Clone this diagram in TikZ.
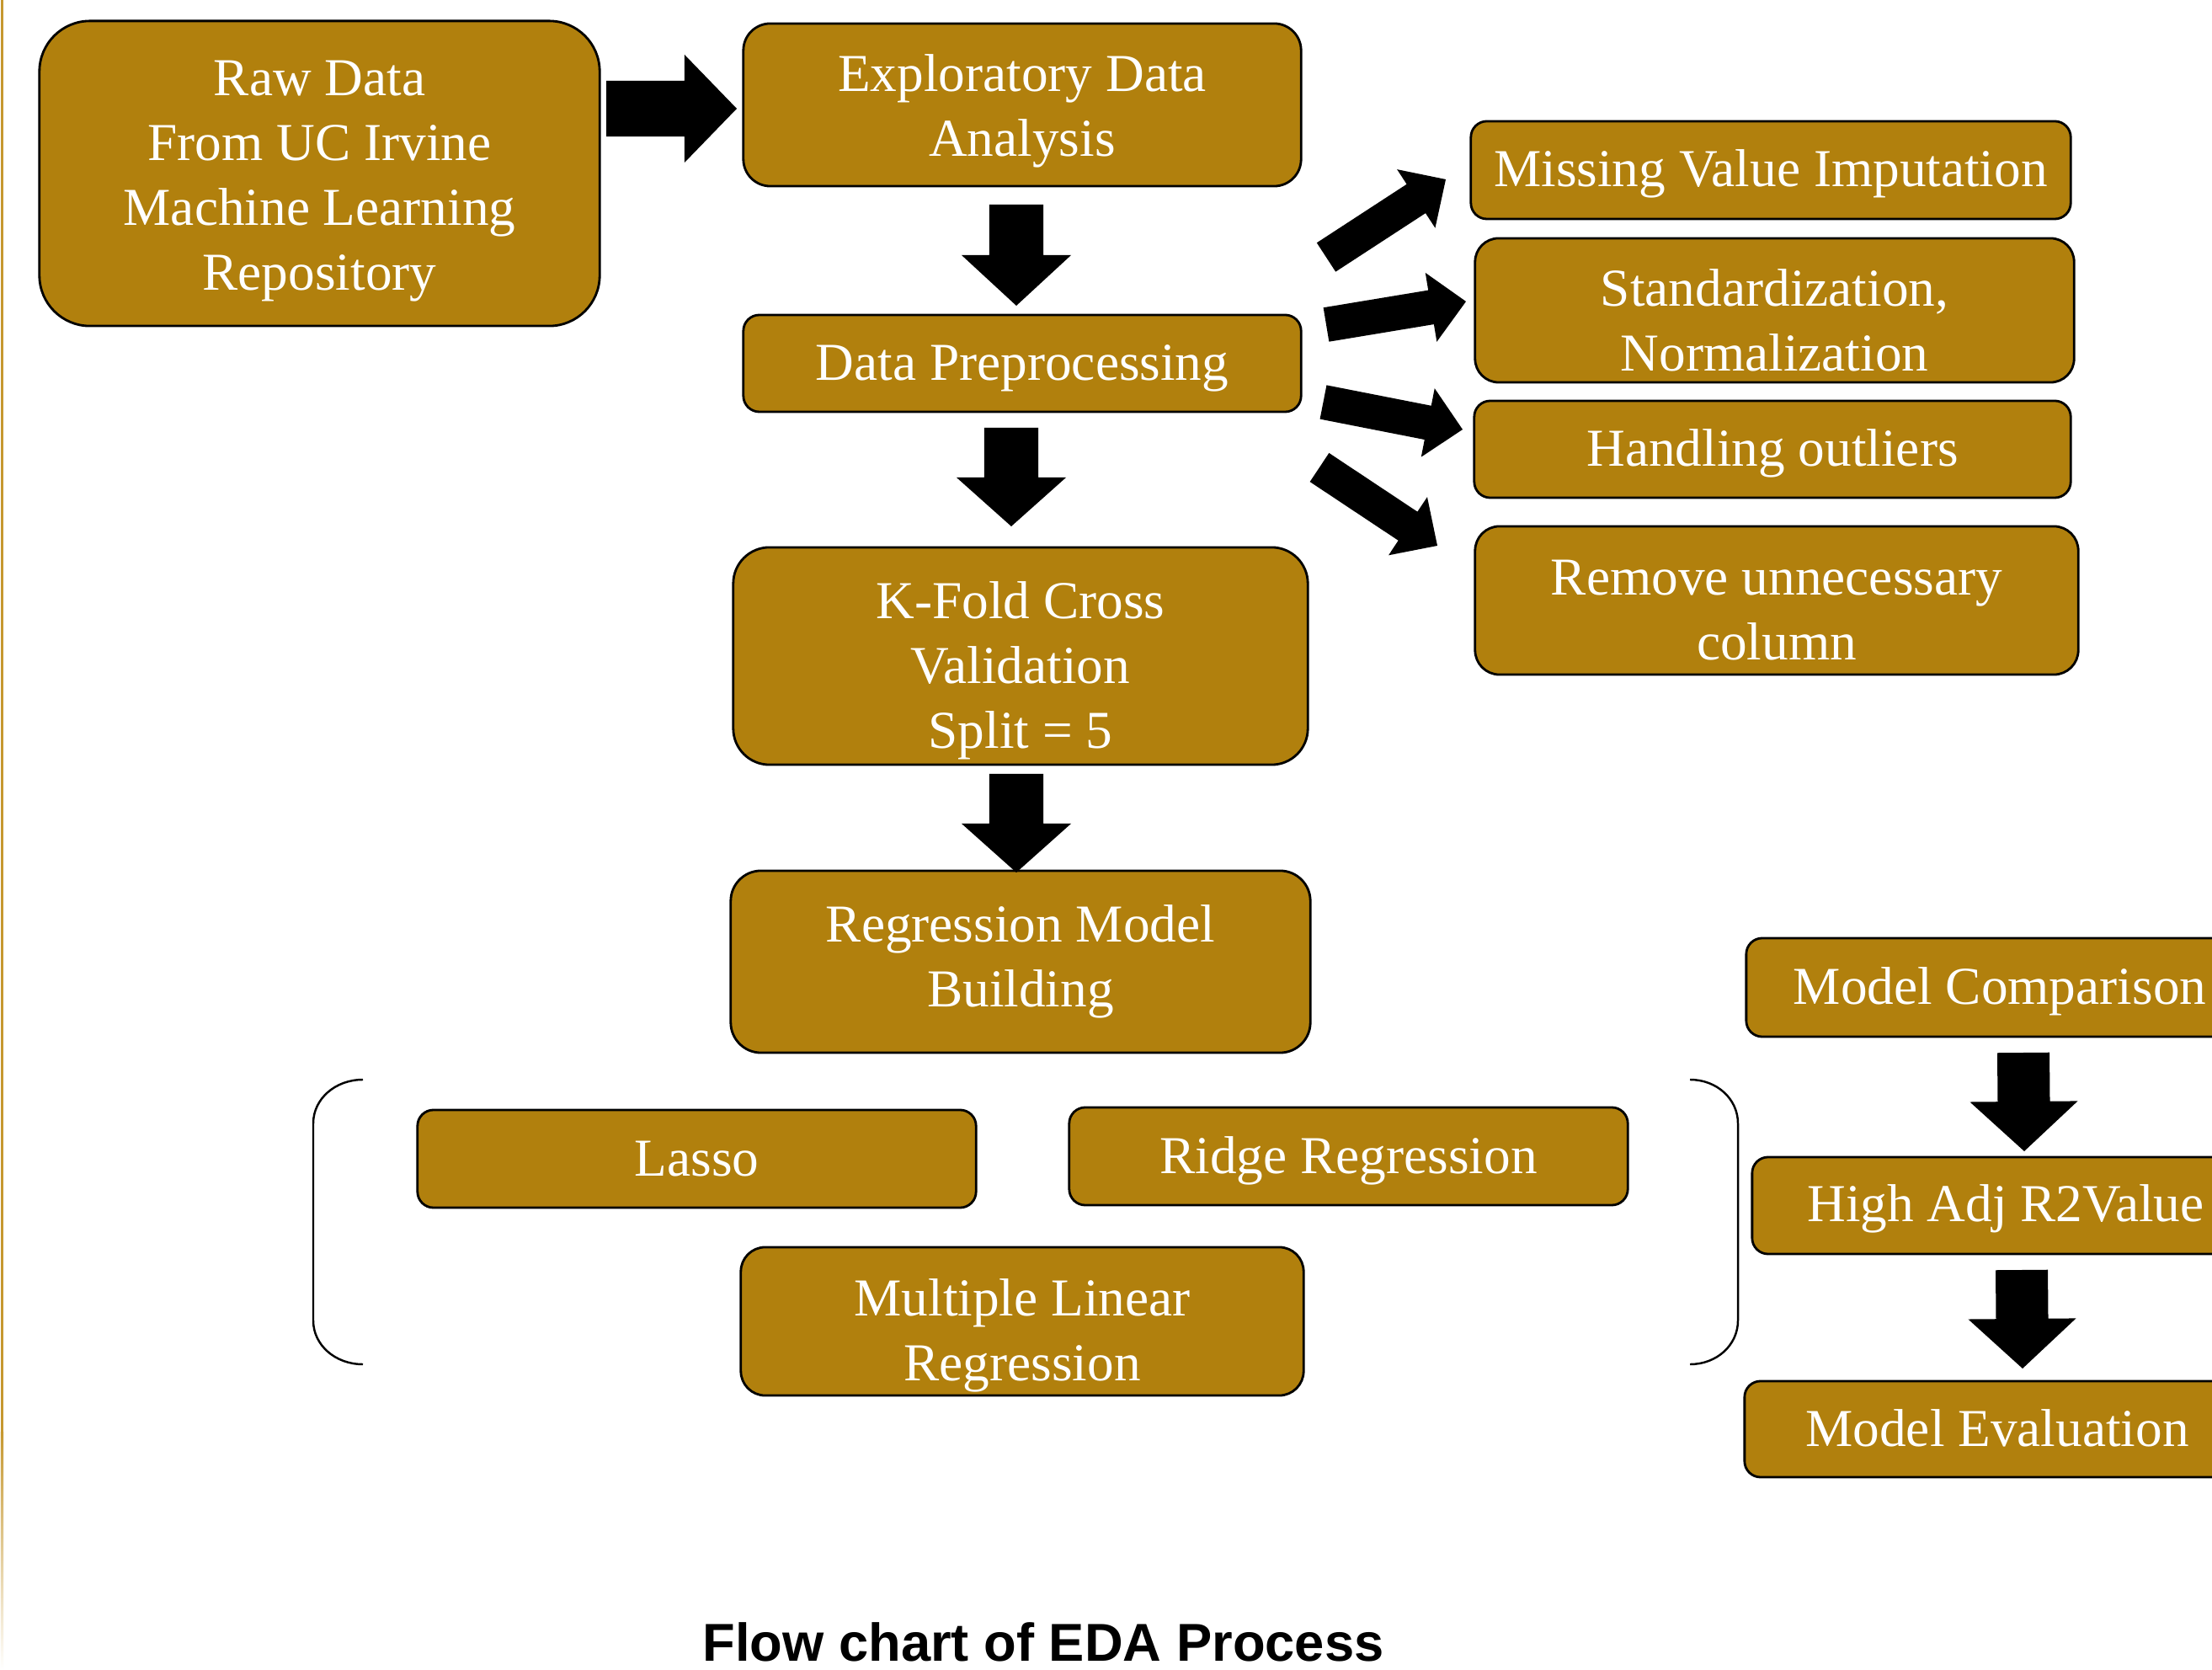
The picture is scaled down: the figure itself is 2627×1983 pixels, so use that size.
\documentclass[tikz,border=0pt]{standalone}
\usepackage{fontspec}
\setmainfont{Liberation Serif}
\newfontfamily\titlefont{Liberation Sans}
\usetikzlibrary{calc}
\definecolor{boxgold}{RGB}{177,128,13}
\definecolor{edgegold}{RGB}{198,152,48}
% fat block arrow: from, to, half shaft, half head, head length
\newcommand\fatarr[5]{%
  \coordinate (fa-base) at ($(#2)!#5!(#1)$);
  \fill[black] ($(#1)!#3!90:(#2)$) -- ($(fa-base)!#3!90:(#2)$) -- ($(fa-base)!#4!90:(#2)$) -- (#2)
    -- ($(fa-base)!#4!-90:(#2)$) -- ($(fa-base)!#3!-90:(#2)$) -- ($(#1)!#3!-90:(#2)$) -- cycle;}
% first-line strut with extra height (moves the text block down by half of it)
\newcommand\tstrut[1]{\rule{0pt}{\dimexpr 15.33pt+#1\relax}}
% compact variant: first line strut + last line without depth; text moves down by #1
\newcommand\hstrut[1]{\rule{0pt}{\dimexpr 8.76pt+#1*2\relax}}
\newcommand\lastl[1]{\raisebox{0pt}[\height][0pt]{#1}}
\tikzset{
  box/.style={draw=black, line width=0.8pt, fill=boxgold, text=white, align=center,
    font=\fontsize{18pt}{21.9pt}\selectfont, inner sep=0pt},
  brace/.style={draw=black, line width=0.7pt},
}
\begin{document}
\begin{tikzpicture}[x=0.01cm, y=-0.01cm]
\useasboundingbox (0,0) rectangle (2627,1983);
\clip (0,0) rectangle (2627,1983);
\fill[white] (0,0) rectangle (2627,1983);
% left edge line
\fill[edgegold] (1,0) rectangle (4,1700);
\shade[top color=edgegold, bottom color=white] (1,1700) rectangle (4,1983);

% main column
\node[box, minimum width=6.65cm, minimum height=3.62cm, rounded corners=0.6cm] (raw) at (379.5,206)
  {\tstrut{0.16cm}Raw Data\\\strut From UC Irvine\\\strut Machine Learning\\\strut Repository};
\node[box, minimum width=6.62cm, minimum height=1.93cm, rounded corners=0.32cm] (eda) at (1214,124.5)
  {\tstrut{0.14cm}Exploratory Data\\\strut Analysis};
\node[box, minimum width=6.62cm, minimum height=1.15cm, rounded corners=0.19cm] (prep) at (1214,431.5)
  {\tstrut{0.10cm}Data Preprocessing\strut};
\node[box, minimum width=6.82cm, minimum height=2.58cm, rounded corners=0.43cm] (kfold) at (1212,779)
  {\hstrut{0.17cm}K-Fold Cross\\Validation\\\lastl{Split = 5}};
\node[box, minimum width=6.88cm, minimum height=2.16cm, rounded corners=0.36cm] (regr) at (1212,1142)
  {\strut Regression Model\\\strut Building};

% models
\node[box, minimum width=6.63cm, minimum height=1.16cm, rounded corners=0.19cm] (lasso) at (827.5,1376)
  {\tstrut{0.10cm}Lasso\strut};
\node[box, minimum width=6.63cm, minimum height=1.16cm, rounded corners=0.19cm] (ridge) at (1601.5,1373)
  {\tstrut{0.10cm}Ridge Regression\strut};
\node[box, minimum width=6.68cm, minimum height=1.76cm, rounded corners=0.29cm] (mlr) at (1214,1569)
  {\hstrut{0.17cm}Multiple Linear\\\lastl{Regression}};

% preprocessing steps
\node[box, minimum width=7.12cm, minimum height=1.16cm, rounded corners=0.19cm] (miss) at (2103,202)
  {\tstrut{0.08cm}Missing Value Imputation\strut};
\node[box, minimum width=7.11cm, minimum height=1.71cm, rounded corners=0.28cm] (std) at (2107.5,368.5)
  {\hstrut{0.18cm}Standardization,\\\lastl{Normalization}};
\node[box, minimum width=7.08cm, minimum height=1.15cm, rounded corners=0.19cm] (outl) at (2105,533.5)
  {\tstrut{0.10cm}Handling outliers\strut};
\node[box, minimum width=7.16cm, minimum height=1.76cm, rounded corners=0.29cm] (remove) at (2110,713)
  {\hstrut{0.17cm}Remove unnecessary\\\lastl{column}};

% right column
\node[box, minimum width=6.02cm, minimum height=1.17cm, rounded corners=0.19cm] (comp) at (2375,1172.5)
  {\tstrut{0.10cm}Model Comparison\strut};
\node[box, minimum width=6.02cm, minimum height=1.15cm, rounded corners=0.19cm] (adj) at (2382,1431.5)
  {\tstrut{0.08cm}High Adj R2Value\strut};
\node[box, minimum width=6.00cm, minimum height=1.14cm, rounded corners=0.19cm] (eval) at (2372,1697)
  {\tstrut{0.10cm}Model Evaluation\strut};

% braces
\draw[brace] (431,1282) .. controls (398,1282) and (372,1305) .. (372,1334) -- (372,1568)
  .. controls (372,1597) and (398,1620) .. (431,1620);
\draw[brace] (2007,1282) .. controls (2039,1282) and (2064,1305) .. (2064,1334) -- (2064,1568)
  .. controls (2064,1597) and (2039,1620) .. (2007,1620);

% arrow end points
\coordinate (a1s) at (720,129);   \coordinate (a1e) at (875,129);
\coordinate (a2s) at (1207,243);  \coordinate (a2e) at (1207,363);
\coordinate (a3s) at (1201,508);  \coordinate (a3e) at (1201,625);
\coordinate (a4s) at (1207,919);  \coordinate (a4e) at (1207,1036);
\coordinate (a5s) at (2403,1250); \coordinate (a5e) at (2404,1367);
\coordinate (a6s) at (2401,1508); \coordinate (a6e) at (2402,1625);
\coordinate (d1s) at (1575,305.5); \coordinate (d1e) at (1717,213);
\coordinate (d2s) at (1575,385.5); \coordinate (d2e) at (1741,358);
\coordinate (d3s) at (1571.5,477.5); \coordinate (d3e) at (1737,510);
\coordinate (d4s) at (1567,555);  \coordinate (d4e) at (1707,648);

\fatarr{a1s}{a1e}{0.33cm}{0.64cm}{0.62cm}
\fatarr{a2s}{a2e}{0.32cm}{0.65cm}{0.60cm}
\fatarr{a3s}{a3e}{0.32cm}{0.65cm}{0.58cm}
\fatarr{a4s}{a4e}{0.32cm}{0.65cm}{0.58cm}
\fatarr{a5s}{a5e}{0.31cm}{0.64cm}{0.59cm}
\fatarr{a6s}{a6e}{0.31cm}{0.64cm}{0.59cm}
\fatarr{d1s}{d1e}{0.205cm}{0.415cm}{0.42cm}
\fatarr{d2s}{d2e}{0.205cm}{0.415cm}{0.42cm}
\fatarr{d3s}{d3e}{0.205cm}{0.415cm}{0.42cm}
\fatarr{d4s}{d4e}{0.205cm}{0.415cm}{0.42cm}

% caption
\node[font=\titlefont\bfseries\fontsize{18pt}{21pt}\selectfont, anchor=base] (title) at (1239,1972)
  {Flow chart of EDA Process};
\end{tikzpicture}
\end{document}
